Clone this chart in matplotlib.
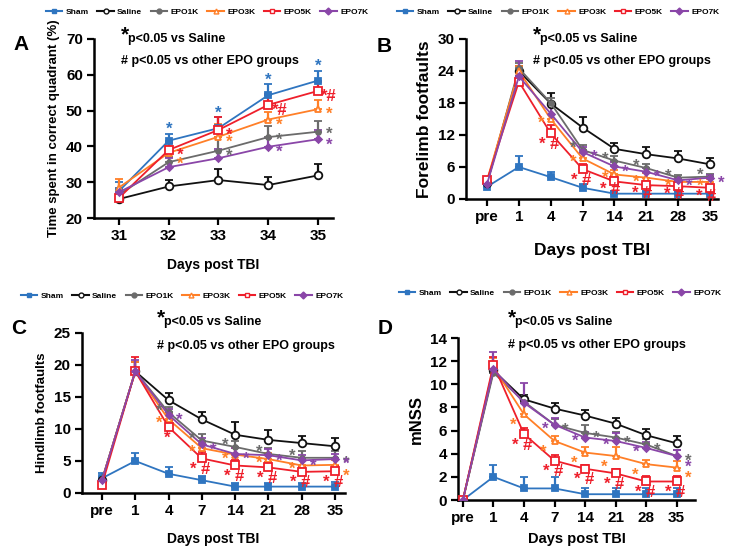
import matplotlib
matplotlib.use("Agg")
import matplotlib.pyplot as plt
from matplotlib.lines import Line2D
import numpy as np

plt.rcParams['font.family'] = ['Liberation Sans', 'DejaVu Sans']
plt.rcParams['font.weight'] = 'bold'

W, H = 739, 553

groups = ["Sham", "Saline", "EPO1K", "EPO3K", "EPO5K", "EPO7K"]
colors = {"Sham": "#2f75c0", "Saline": "#111111", "EPO1K": "#6b6b6b",
          "EPO3K": "#ff7f27", "EPO5K": "#ee1f2b", "EPO7K": "#8a46a8"}
markers = {"Sham": ("s", True), "Saline": ("o", False), "EPO1K": ("o", True),
           "EPO3K": ("^", False), "EPO5K": ("s", False), "EPO7K": ("D", True)}
msize = {"Sham": 5, "Saline": 5.5, "EPO1K": 3.5, "EPO3K": 5, "EPO5K": 5.5, "EPO7K": 3.5}

# ---- Panel A: probe trial, days 31-35
days_a = [31, 32, 33, 34, 35]
mean_a = {
    "Sham":   [27.5, 41.6, 45.1, 54.3, 58.4],
    "Saline": [25.3, 28.8, 30.6, 29.2, 31.9],
    "EPO1K":  [26.5, 35.6, 38.8, 42.6, 44.1],
    "EPO3K":  [28.5, 38.2, 42.7, 47.5, 50.4],
    "EPO5K":  [25.6, 39.0, 44.6, 51.6, 55.5],
    "EPO7K":  [27.2, 34.2, 36.7, 39.9, 42.0],
}
sem_a = {
    "Sham":   [2.5, 2.0, 3.0, 3.0, 2.7],
    "Saline": [0.5, 1.7, 3.2, 2.2, 3.3],
    "EPO1K":  [1.0, 1.5, 3.7, 3.0, 3.0],
    "EPO3K":  [2.5, 2.0, 3.5, 2.0, 2.5],
    "EPO5K":  [1.0, 2.0, 3.5, 3.0, 2.6],
    "EPO7K":  [1.0, 2.5, 2.5, 2.5, 2.5],
}
sig_a = [("Sham", 1, "*", "a"), ("Sham", 2, "*", "a"), ("Sham", 3, "*", "a"), ("Sham", 4, "*", "a"),
         ("EPO5K", 1, "*", "r"), ("EPO5K", 2, "*", "r"), ("EPO5K", 3, "*#", "r"), ("EPO5K", 4, "*#", "r"),
         ("EPO3K", 1, "*", "rb"), ("EPO3K", 2, "*", "r"), ("EPO3K", 3, "*", "r"), ("EPO3K", 4, "*", "r"),
         ("EPO1K", 2, "*", "r"), ("EPO1K", 3, "*", "rt"), ("EPO1K", 4, "*", "rt"),
         ("EPO7K", 3, "*", "r"), ("EPO7K", 4, "*", "r")]

days_tick = ["pre", "1", "4", "7", "14", "21", "28", "35"]

# ---- Panel B: forelimb footfaults
mean_b = {
    "Sham":   [2.3, 6.0, 4.1, 2.1, 1.0, 1.0, 1.0, 1.0],
    "Saline": [3.0, 24.0, 17.9, 13.4, 9.4, 8.4, 7.6, 6.5],
    "EPO1K":  [3.0, 24.5, 18.0, 9.2, 7.2, 5.8, 4.0, 4.2],
    "EPO3K":  [3.5, 24.0, 15.0, 7.6, 4.6, 4.0, 3.2, 3.2],
    "EPO5K":  [3.5, 22.0, 12.3, 5.6, 3.3, 2.6, 2.4, 2.1],
    "EPO7K":  [2.8, 23.0, 16.0, 8.8, 6.1, 5.1, 3.5, 4.0],
}
sem_b = {
    "Sham":   [0.3, 2.0, 0.9, 0.7, 0.5, 0.5, 0.5, 0.5],
    "Saline": [0.3, 1.0, 2.0, 1.9, 1.1, 1.4, 1.4, 1.2],
    "EPO1K":  [0.3, 1.0, 1.0, 1.0, 0.8, 0.8, 0.5, 0.5],
    "EPO3K":  [0.3, 1.0, 1.0, 1.0, 0.8, 0.8, 0.5, 0.5],
    "EPO5K":  [0.3, 1.0, 1.6, 1.0, 1.0, 0.6, 0.5, 0.5],
    "EPO7K":  [0.3, 2.8, 1.8, 1.0, 0.8, 0.8, 0.5, 0.5],
}
sig_b = [("EPO5K", i, "* #", "b") for i in range(2, 4)] + \
        [("EPO5K", i, "* #", "bs") for i in range(4, 8)] + \
        [("EPO1K", i, "*", "la") for i in range(3, 8)] + \
        [("EPO7K", i, "*", "r") for i in range(3, 8)] + \
        [("EPO3K", i, "*", "l") for i in range(2, 8)]

# ---- Panel C: hindlimb footfaults
mean_c = {
    "Sham":   [2.3, 5.0, 3.0, 2.0, 1.0, 1.0, 1.0, 1.0],
    "Saline": [2.0, 19.0, 14.5, 11.5, 9.1, 8.3, 7.8, 7.3],
    "EPO1K":  [2.0, 19.0, 12.6, 8.2, 7.2, 6.1, 5.5, 5.5],
    "EPO3K":  [2.0, 19.0, 11.5, 7.0, 6.0, 5.3, 4.3, 4.4],
    "EPO5K":  [1.3, 19.0, 10.3, 5.4, 4.3, 4.0, 3.3, 3.4],
    "EPO7K":  [2.0, 19.0, 12.2, 7.6, 6.1, 5.9, 5.1, 5.3],
}
sem_c = {
    "Sham":   [0.8, 1.3, 1.0, 0.7, 0.5, 0.6, 0.6, 0.7],
    "Saline": [0.5, 1.5, 1.2, 1.1, 2.0, 1.5, 1.1, 1.3],
    "EPO1K":  [0.5, 1.5, 0.8, 1.0, 1.0, 1.0, 1.0, 1.0],
    "EPO3K":  [0.5, 1.5, 0.8, 1.0, 1.0, 1.0, 0.8, 0.8],
    "EPO5K":  [0.5, 2.2, 1.0, 1.0, 0.8, 0.8, 0.8, 0.8],
    "EPO7K":  [0.5, 1.8, 1.0, 1.0, 1.0, 1.0, 0.8, 0.8],
}
sig_c = [("EPO5K", 2, "*", "b")] + [("EPO5K", i, "* #", "b") for i in range(3, 8)] + \
        [("EPO1K", i, "*", "la") for i in range(2, 7)] + [("EPO1K", 7, "*", "r")] + \
        [("EPO7K", i, "*", "r") for i in range(2, 8)] + \
        [("EPO3K", i, "*", "l") for i in range(2, 7)] + [("EPO3K", 7, "*", "rb")]

# ---- Panel D: mNSS
mean_d = {
    "Sham":   [0, 2.0, 1.0, 1.0, 0.5, 0.5, 0.5, 0.5],
    "Saline": [0, 11.2, 8.7, 7.9, 7.3, 6.6, 5.6, 4.9],
    "EPO1K":  [0, 11.0, 8.5, 6.5, 5.8, 5.4, 4.8, 3.8],
    "EPO3K":  [0, 11.5, 7.4, 5.1, 4.1, 3.8, 3.1, 2.8],
    "EPO5K":  [0, 11.7, 5.7, 3.4, 2.7, 2.3, 1.6, 1.6],
    "EPO7K":  [0, 11.3, 8.4, 6.5, 5.4, 5.1, 4.5, 3.8],
}
sem_d = {
    "Sham":   [0, 1.0, 1.0, 1.0, 0.5, 0.5, 0.5, 0.5],
    "Saline": [0, 0.5, 0.4, 0.5, 0.5, 0.5, 0.5, 0.6],
    "EPO1K":  [0, 0.5, 0.5, 0.5, 0.7, 0.5, 0.5, 0.5],
    "EPO3K":  [0, 0.8, 1.5, 0.4, 0.5, 0.8, 0.4, 0.6],
    "EPO5K":  [0, 0.7, 0.5, 0.5, 0.3, 0.4, 0.5, 0.5],
    "EPO7K":  [0, 1.5, 1.7, 0.6, 0.5, 0.7, 0.5, 0.5],
}
sig_d = [("EPO5K", i, "* #", "b") for i in range(2, 8)] + \
        [("EPO3K", i, "*", "lb") for i in range(2, 7)] + [("EPO3K", 7, "*", "rb")] + \
        [("EPO1K", i, "*", "r") for i in range(3, 8)] + \
        [("EPO7K", i, "*", "l") for i in range(3, 7)] + [("EPO7K", 7, "*", "rb")]

offsets = {"a": (0, 3), "r": (8, -4), "rb": (8, -8), "rt": (8, -2), "b": (-1, -8),
           "bs": (-3, -6), "l": (-7, -3), "la": (-7, 1), "lb": (-8, -8)}


def px(x, y):
    return x / W, 1 - y / H


def panel(rect, x, means, sems, sig, ylim, yticks, xlim, xticklabels,
          ylabel, ylab_size, xlab_size, letter, letter_xy, legend_xy,
          note_xy, note2_xy, xlabel_y):
    l, t, r, b = rect
    x0, y1 = px(l, t)
    x1, y0 = px(r, b)
    ax = fig.add_axes([x0, y0, x1 - x0, y1 - y0])
    handles = []
    for g in groups:
        m, filled = markers[g]
        c = colors[g]
        y = np.array(means[g])
        e = np.array(sems[g])
        ax.errorbar(x, y, yerr=[np.zeros_like(e), e], color=c, lw=1.3,
                    elinewidth=1.6, capsize=3, capthick=1.6,
                    marker=m, ms=msize[g], mfc=c if filled else "white",
                    mec=c, mew=1.3, zorder=3)
        handles.append(Line2D([], [], color=c, lw=1.5, marker=m, ms=3.5,
                              mfc=c if filled else "white", mec=c, mew=1.0, label=g))
    for g, i, txt, where in sig:
        ytop = means[g][i] + (sems[g][i] if where == "a" else 0)
        dx, dy = offsets[where]
        ax.annotate(txt, (x[i], ytop), xytext=(dx, dy), textcoords="offset points",
                    ha="center", va="center", color=colors[g], fontsize=12,
                    fontweight="bold", zorder=5)
    ax.set_ylim(*ylim)
    ax.set_yticks(yticks)
    ax.set_xlim(*xlim)
    ax.set_xticks(x)
    ax.set_xticklabels(xticklabels)
    for s in ["top", "right"]:
        ax.spines[s].set_visible(False)
    for s in ["left", "bottom"]:
        ax.spines[s].set_linewidth(1.8)
    ax.tick_params(width=1.6, length=5, labelsize=11, pad=3)
    for lab in ax.get_xticklabels() + ax.get_yticklabels():
        lab.set_fontweight("bold")
    ax.set_ylabel(ylabel, fontsize=ylab_size, fontweight="bold")
    fig.text(*px((l + r) / 2, xlabel_y), "Days post TBI", ha="center", va="center",
             fontsize=xlab_size, fontweight="bold")
    fig.text(*px(*letter_xy), letter, fontsize=15, fontweight="bold", ha="left", va="center")
    ax.legend(handles=handles, loc="center", bbox_to_anchor=px(*legend_xy),
              bbox_transform=fig.transFigure, ncol=6, frameon=False,
              prop={"size": 6, "weight": "bold"}, handlelength=2.0,
              handletextpad=0.4, columnspacing=1.0)
    nx, ny = note_xy
    fig.text(*px(nx, ny - 2), "*", fontsize=15, fontweight="bold", ha="left", va="center")
    fig.text(*px(nx + 7, ny + 2), "p<0.05 vs Saline", fontsize=9, fontweight="bold",
             ha="left", va="center")
    fig.text(*px(*note2_xy), "# p<0.05 vs other EPO groups", fontsize=9,
             fontweight="bold", ha="left", va="center")
    return ax


fig = plt.figure(figsize=(W / 100, H / 100), dpi=100)

cat = np.arange(8)

panel((94, 39, 333, 218), np.array(days_a), mean_a, sem_a, sig_a, (20, 70),
      [20, 30, 40, 50, 60, 70], (30.5, 35.3), [str(d) for d in days_a],
      "Time spent in correct quadrant (%)", 9.5, 10, "A", (13, 44), (207, 12),
      (121, 37), (121, 61), 265)

panel((466, 39, 718, 199), cat, mean_b, sem_b, sig_b, (0, 30),
      [0, 6, 12, 18, 24, 30], (-0.66, 7.25), days_tick,
      "Forelimb footfaults", 12.5, 12.5, "B", (377, 47), (558, 12),
      (533, 37), (533, 61), 251)

panel((82, 333, 345, 493), cat, mean_c, sem_c, sig_c, (0, 25),
      [0, 5, 10, 15, 20, 25], (-0.6, 7.3), days_tick,
      "Hindlimb footfaults", 9.5, 10, "C", (11, 328), (182, 296),
      (157, 320), (157, 346), 539)

panel((458, 338, 695, 500), cat, mean_d, sem_d, sig_d, (0, 14),
      [0, 2, 4, 6, 8, 10, 12, 14], (-0.16, 7.6), days_tick,
      "mNSS", 12, 10.5, "D", (378, 328), (560, 293),
      (508, 320), (508, 345), 539)

fig.savefig("out.png", dpi=100)
